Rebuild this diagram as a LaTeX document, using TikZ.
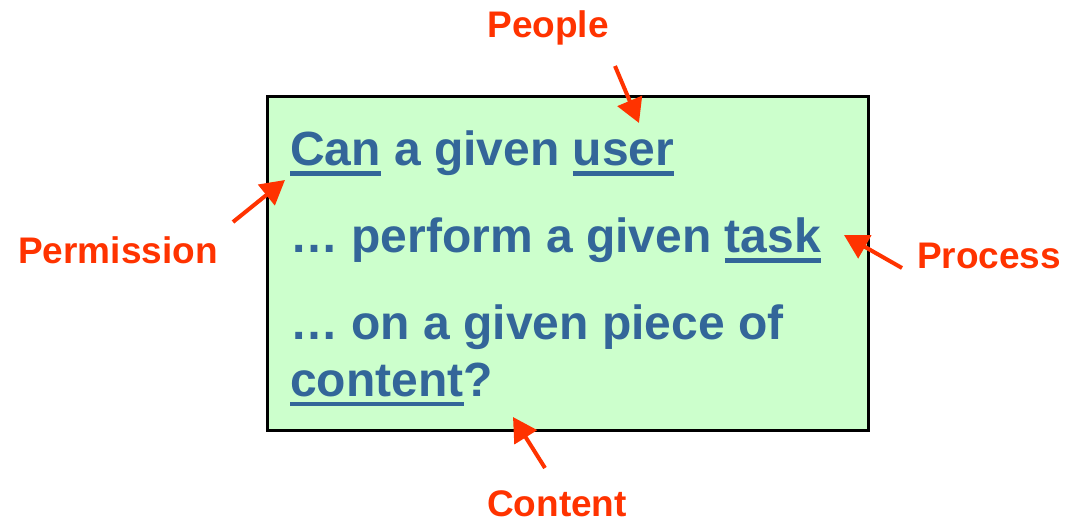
\documentclass[tikz,border=0pt]{standalone}
\usepackage{fontspec}
\setmainfont{Liberation Sans}
\usetikzlibrary{arrows.meta}
\definecolor{boxfill}{RGB}{204,255,204}
\definecolor{txtblue}{RGB}{51,102,153}
\definecolor{lblred}{RGB}{255,51,0}
\newcommand\myul[1]{\setbox0\hbox{#1}\rlap{\rule[-10pt]{\wd0}{4.5pt}}\box0\relax}
\tikzset{
  mainline/.style={anchor=base west, inner sep=0pt, text=txtblue, font=\fontsize{48}{58}\selectfont\bfseries},
  lbl/.style={inner sep=0pt, text=lblred, font=\fontsize{37}{44}\selectfont\bfseries},
  redarrow/.style={draw=lblred, line width=4pt, -{Triangle[width=26pt,length=24pt]}},
  qbox/.style={draw=black, line width=3pt, fill=boxfill}
}
\begin{document}
\begin{tikzpicture}[x=1pt,y=-1pt]
\useasboundingbox (0,0) rectangle (1070,521);
\path[qbox] (267,97) rectangle (868,430);
\node[mainline] (l1) at (290,166) {\myul{Can} a given \myul{user}};
\node[mainline] (l2) at (290,253) {… perform a given \myul{task}};
\node[mainline] (l3) at (290,339) {… on a given piece of};
\node[mainline] (l4) at (290,396) {\myul{content}?};
\node[lbl] (people) at (548,28) {People};
\node[lbl] (perm) at (118,250) {Permission};
\node[lbl] (proc) at (989,256) {Process};
\node[lbl] (cont) at (557,504) {Content};
\coordinate (pt) at (615,66);
\coordinate (ph) at (639,123);
\coordinate (mt) at (233,222);
\coordinate (mh) at (285,180);
\coordinate (rt) at (902,268);
\coordinate (rh) at (844,235);
\coordinate (ct) at (545,468);
\coordinate (ch) at (513,417);
\draw[redarrow] (pt) -- (ph);
\draw[redarrow] (mt) -- (mh);
\draw[redarrow] (rt) -- (rh);
\draw[redarrow] (ct) -- (ch);
\end{tikzpicture}
\end{document}
